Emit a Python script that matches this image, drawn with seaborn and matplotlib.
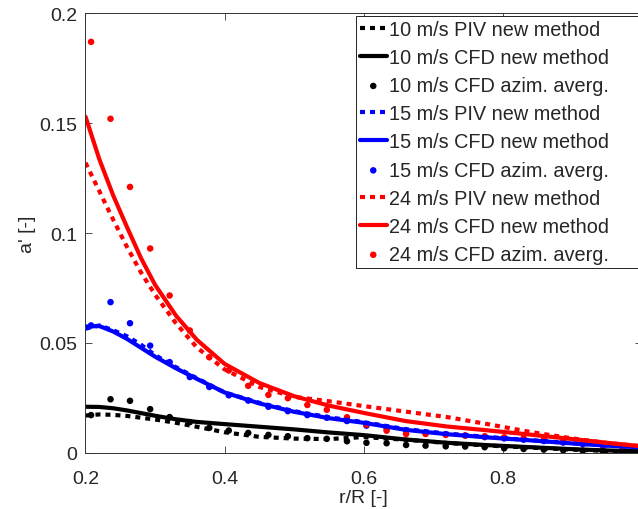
import matplotlib
matplotlib.use('Agg')
import matplotlib.pyplot as plt
import seaborn as sns
import numpy as np

sns.set_theme(style="ticks")
plt.rcParams['font.family'] = ['Liberation Sans', 'DejaVu Sans']
plt.rcParams['xtick.direction'] = 'in'
plt.rcParams['ytick.direction'] = 'in'

# r/R positions of the fitted lines
r_line = [0.20, 0.22, 0.24, 0.26, 0.28, 0.30, 0.33, 0.36, 0.40, 0.45,
          0.50, 0.55, 0.60, 0.66, 0.72, 0.78, 0.84, 0.90, 0.95, 1.00]

piv_10 = [0.0170, 0.0175, 0.0173, 0.0168, 0.0160, 0.0152, 0.0137, 0.0119, 0.0094, 0.0073,
          0.0065, 0.0063, 0.0072, 0.0060, 0.0045, 0.0033, 0.0024, 0.0015, 0.0009, 0.0005]
cfd_10 = [0.0210, 0.0209, 0.0203, 0.0193, 0.0181, 0.0169, 0.0153, 0.0141, 0.0131, 0.0119,
          0.0107, 0.0093, 0.0081, 0.0061, 0.0046, 0.0035, 0.0026, 0.0017, 0.0011, 0.0007]
piv_15 = [0.0565, 0.0580, 0.0558, 0.0530, 0.0492, 0.0445, 0.0390, 0.0340, 0.0275, 0.0228,
          0.0190, 0.0162, 0.0140, 0.0108, 0.0088, 0.0072, 0.0058, 0.0044, 0.0034, 0.0026]
cfd_15 = [0.0575, 0.0577, 0.0552, 0.0518, 0.0478, 0.0438, 0.0385, 0.0337, 0.0275, 0.0225,
          0.0187, 0.0158, 0.0137, 0.0105, 0.0085, 0.0070, 0.0057, 0.0043, 0.0033, 0.0025]
piv_24 = [0.1320, 0.1190, 0.1060, 0.0935, 0.0820, 0.0720, 0.0590, 0.0480, 0.0380, 0.0300,
          0.0255, 0.0235, 0.0213, 0.0188, 0.0163, 0.0130, 0.0095, 0.0066, 0.0045, 0.0030]
cfd_24 = [0.1530, 0.1335, 0.1170, 0.1025, 0.0885, 0.0765, 0.0625, 0.0515, 0.0405, 0.0318,
          0.0258, 0.0215, 0.0182, 0.0145, 0.0120, 0.0102, 0.0083, 0.0063, 0.0046, 0.0030]

# azimuthally averaged CFD points
r_dots = [0.208, 0.236, 0.264, 0.293, 0.321, 0.350, 0.378, 0.406, 0.434, 0.463,
          0.491, 0.519, 0.547, 0.576, 0.604, 0.633, 0.661, 0.689, 0.718, 0.746,
          0.774, 0.802, 0.830, 0.859, 0.887, 0.915, 0.944, 0.972]
azim_10 = [0.0172, 0.0244, 0.0237, 0.0199, 0.0163, 0.0140, 0.0114, 0.0102, 0.0091, 0.0082,
           0.0076, 0.0067, 0.0064, 0.0053, 0.0046, 0.0044, 0.0036, 0.0033, 0.0030, 0.0029,
           0.0026, 0.0021, 0.0018, 0.0015, 0.0012, 0.0010, 0.0008, 0.0006]
azim_15 = [0.0580, 0.0686, 0.0590, 0.0488, 0.0413, 0.0345, 0.0300, 0.0262, 0.0238, 0.0210,
           0.0190, 0.0172, 0.0160, 0.0145, 0.0124, 0.0112, 0.0102, 0.0093, 0.0085, 0.0079,
           0.0072, 0.0066, 0.0060, 0.0054, 0.0047, 0.0040, 0.0033, 0.0027]
azim_24 = [0.1870, 0.1520, 0.1210, 0.0930, 0.0716, 0.0557, 0.0435, 0.0375, 0.0305, 0.0264,
           0.0249, 0.0218, 0.0196, 0.0162, 0.0128, 0.0101, 0.0086, 0.0086, 0.0082, 0.0079,
           0.0076, 0.0071, 0.0066, 0.0060, 0.0052, 0.0045, 0.0038, 0.0031]

fig = plt.figure(figsize=(6.38, 5.10), dpi=100)
ax = fig.add_axes([0.134, 0.110, 0.872, 0.862])

dotted = (0, (1.2, 1.2))
series = [
    ('10', 'black', piv_10, cfd_10, azim_10),
    ('15', 'blue', piv_15, cfd_15, azim_15),
    ('24', 'red', piv_24, cfd_24, azim_24),
]

for speed, col, piv, cfd, azim in series:
    sns.lineplot(x=r_line, y=piv, color=col, lw=3, linestyle=dotted, ax=ax,
                 label=f'{speed} m/s PIV new method')
    sns.lineplot(x=r_line, y=cfd, color=col, lw=3, ax=ax,
                 label=f'{speed} m/s CFD new method')
    sns.scatterplot(x=r_dots, y=azim, color=col, s=22, edgecolor='none', ax=ax,
                    label=f'{speed} m/s CFD azim. averg.')

# keep legend in the order the series were drawn
h, l = ax.get_legend_handles_labels()
lookup = dict(zip(l, h))
order = []
for speed, *_ in series:
    order += [f'{speed} m/s PIV new method', f'{speed} m/s CFD new method',
              f'{speed} m/s CFD azim. averg.']
# legend box runs past the right edge of the picture, as in the original
leg = ax.legend([lookup[k] for k in order], order, loc='upper left',
                bbox_to_anchor=(0.486, 0.0, 0.53, 0.994), mode='expand',
                fontsize=14.3, frameon=True, fancybox=False, framealpha=1,
                edgecolor='black', handlelength=1.35, handletextpad=0.12,
                labelspacing=0.46, borderpad=0.2, borderaxespad=0.0,
                scatterpoints=1)
leg.get_frame().set_linewidth(0.6)

ax.set_xlim(0.2, 1.0)
ax.set_ylim(0, 0.2)
ax.set_xticks([0.2, 0.4, 0.6, 0.8, 1.0])
ax.set_xticklabels(['0.2', '0.4', '0.6', '0.8', ''])
ax.set_yticks([0, 0.05, 0.1, 0.15, 0.2])
ax.set_yticklabels(['0', '0.05', '0.1', '0.15', '0.2'])
ax.tick_params(axis='both', labelsize=14, length=5, width=0.6, color='#333333',
               top=True, right=True)
ax.tick_params(axis='x', pad=12)
ax.tick_params(axis='y', pad=6)
for sp in ax.spines.values():
    sp.set_linewidth(0.7)
    sp.set_color('#333333')
ax.set_xlabel('r/R [-]', fontsize=14, labelpad=2)
ax.set_ylabel("a' [-]", fontsize=14, labelpad=2)

fig.savefig('out.png', dpi=100)
